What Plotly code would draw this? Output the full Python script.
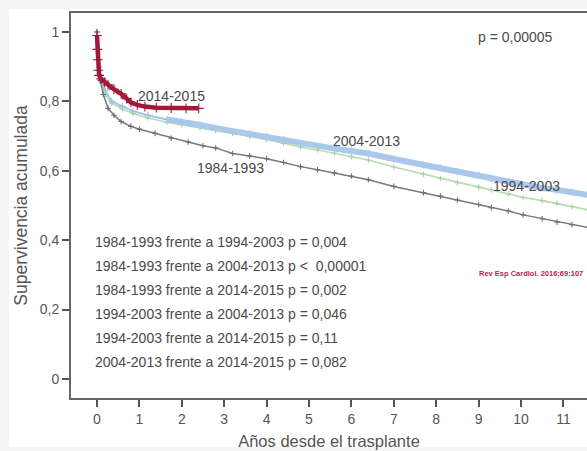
import plotly.graph_objects as go

# Kaplan-Meier survival after heart transplant, by era
t_1984 = [0, 0.03, 0.08, 0.15, 0.26, 0.4, 0.57, 0.8, 1.0, 1.37, 1.75, 2.15, 2.5, 2.8, 3.2, 3.6,
          4.0, 4.4, 4.8, 5.2, 5.6, 6.0, 6.4, 7.0, 7.7, 8.1, 8.5, 9.0, 9.3, 9.7, 10.05, 10.5,
          10.85, 11.2, 11.6]
s_1984 = [1.0, 0.92, 0.86, 0.82, 0.78, 0.76, 0.742, 0.728, 0.72, 0.708, 0.694, 0.683, 0.672,
          0.666, 0.65, 0.643, 0.635, 0.624, 0.612, 0.603, 0.594, 0.585, 0.574, 0.555, 0.537,
          0.527, 0.516, 0.503, 0.494, 0.484, 0.473, 0.462, 0.452, 0.445, 0.436]

t_1994 = [0, 0.02, 0.05, 0.1, 0.2, 0.35, 0.6, 0.85, 1.2, 1.65, 2.0, 2.43, 2.8, 3.2, 3.6, 4.0,
          4.4, 4.8, 5.2, 5.6, 6.0, 6.4, 7.0, 7.7, 8.1, 8.5, 9.0, 9.3, 9.7, 10.05, 10.5, 10.85,
          11.2, 11.6]
s_1994 = [1.0, 0.94, 0.89, 0.855, 0.82, 0.795, 0.778, 0.765, 0.752, 0.74, 0.733, 0.724, 0.716,
          0.708, 0.699, 0.69, 0.679, 0.669, 0.66, 0.651, 0.641, 0.631, 0.611, 0.59, 0.578,
          0.566, 0.553, 0.545, 0.534, 0.523, 0.514, 0.506, 0.497, 0.487]

t_2004 = [0, 0.02, 0.05, 0.1, 0.2, 0.35, 0.6, 0.85, 1.2, 1.65, 2.0, 2.43, 2.8, 3.2, 3.6, 4.0,
          4.4, 4.8, 5.2, 5.6, 6.0, 6.4, 7.0, 7.7, 8.1, 8.5, 9.0, 9.3, 9.7, 10.05, 10.5, 10.85,
          11.2, 11.6]
s_2004 = [1.0, 0.95, 0.9, 0.86, 0.83, 0.80, 0.785, 0.772, 0.76, 0.748, 0.742, 0.732, 0.723,
          0.714, 0.706, 0.699, 0.69, 0.679, 0.671, 0.664, 0.657, 0.65, 0.634, 0.617, 0.608,
          0.598, 0.587, 0.578, 0.568, 0.558, 0.55, 0.545, 0.538, 0.53]

t_2014 = [0, 0.01, 0.02, 0.03, 0.05, 0.1, 0.18, 0.26, 0.4, 0.57, 0.7, 0.8, 0.95, 1.13, 1.4,
          1.75, 2.1, 2.4]
s_2014 = [0.99, 0.95, 0.92, 0.89, 0.875, 0.865, 0.855, 0.848, 0.835, 0.822, 0.808, 0.797,
          0.79, 0.785, 0.782, 0.781, 0.78, 0.78]

eras = ["1984-1993", "1994-2003", "2004-2013", "2014-2015"]
comparisons = [
    "1984-1993 frente a 1994-2003 p = 0,004",
    "1984-1993 frente a 2004-2013 p <  0,00001",
    "1984-1993 frente a 2014-2015 p = 0,002",
    "1994-2003 frente a 2004-2013 p = 0,046",
    "1994-2003 frente a 2014-2015 p = 0,11",
    "2004-2013 frente a 2014-2015 p = 0,082",
]
overall_p = "p = 0,00005"
citation = "Rev Esp Cardiol. 2016;69:107"
y_ticks = [0, 0.2, 0.4, 0.6, 0.8, 1]
y_tick_text = ["0", "0,2", "0,4", "0,6", "0,8", "1"]
x_ticks = list(range(0, 12))

FONT = "Liberation Sans, Arial, sans-serif"
TXT = "#4a4a4a"

fig = go.Figure()


def km(t, s, color, width, msize, mcolor=None, markers=True):
    fig.add_trace(go.Scatter(
        x=t, y=s, mode="lines+markers" if markers else "lines",
        line=dict(shape="linear", color=color, width=width),
        marker=dict(symbol="cross-thin", size=msize,
                    line=dict(color=mcolor or color, width=1.1)),
        showlegend=False, hoverinfo="skip",
    ))


# 1994-2003 (green)
km(t_1994, s_1994, "#b9dcb3", 1.6, 4, "#a8d2a2")
# 2004-2013 (blue): thin early part, dense censoring band later
km(t_2004, s_2004, "#a6c6e8", 2.0, 5, "#9dbfe4")
k = t_2004.index(1.65)
km(t_2004[k:], s_2004[k:], "#aac9ea", 6, 6, "#aac9ea", markers=False)
# 1984-1993 (grey)
km(t_1984, s_1984, "#7a7a7a", 1.5, 4, "#6f6f6f")
# 2014-2015 (dark red)
km(t_2014, s_2014, "#a3183b", 4.5, 7, "#a3183b")

ann = []


def label(x, y, text, size=14, xanchor="center", color=TXT, xref="x"):
    ann.append(dict(x=x, y=y, xref=xref, yref="y", text=text, showarrow=False,
                    xanchor=xanchor, yanchor="middle",
                    font=dict(family=FONT, size=size, color=color)))


label(1.75, 0.816, eras[3])
label(6.35, 0.686, eras[2])
label(3.16, 0.608, eras[0])
label(10.12, 0.556, eras[1])
label(9.88, 0.986, overall_p)

row_y = [0.395, 0.326, 0.256, 0.187, 0.118, 0.049]
for yy, txt in zip(row_y, comparisons):
    label(-0.1, yy, txt, xanchor="left")

label(0.997, 0.303, "<b>" + citation + "</b>", size=7.5, xanchor="right",
      color="#c21b4e", xref="paper")

fig.update_layout(
    width=587, height=451,
    margin=dict(l=71, r=0, t=13, b=53),
    paper_bgcolor="#f5f5f5", plot_bgcolor="white",
    font=dict(family=FONT, color=TXT),
    annotations=ann,
    shapes=[dict(type="rect", xref="paper", yref="paper",
                 x0=(9 - 71) / 516, x1=1.1, y0=-(447 - 398) / 385, y1=1 + 4 / 385,
                 fillcolor="white", line=dict(width=0), layer="below")],
)
fig.update_xaxes(
    range=[-0.613, 11.556], tickvals=x_ticks, showgrid=False, zeroline=False,
    showline=True, linecolor="#666", linewidth=2, mirror=True,
    ticks="outside", ticklen=7, tickwidth=1.5, tickcolor="#555",
    tickfont=dict(size=14, color="#555"),
    title=dict(text="Años desde el trasplante", font=dict(size=16.5, color="#555"), standoff=10),
)
fig.update_yaxes(
    range=[-0.0548, 1.0548], tickvals=y_ticks, ticktext=y_tick_text, showgrid=False,
    zeroline=False, showline=True, linecolor="#666", linewidth=1.8,
    ticks="outside", ticklen=7, tickwidth=1.5, tickcolor="#555",
    tickfont=dict(size=14, color="#555"),
    title=dict(text="Supervivencia acumulada", font=dict(size=17.5, color="#555"), standoff=8),
)

fig.write_html("out.html")
